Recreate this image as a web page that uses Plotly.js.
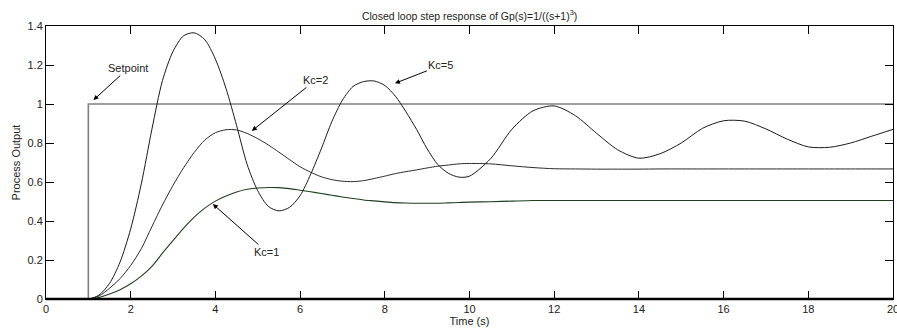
<!DOCTYPE html>
<html>
<head>
<meta charset="utf-8">
<script src="https://cdn.plot.ly/plotly-3.0.1.min.js"></script>
<style>html,body{margin:0;padding:0;background:#fff;}#chart{width:897px;height:334px;}</style>
</head>
<body>
<div id="chart"></div>
<script>
// Time samples (s)
const time = [0, 1, 1.25, 1.5, 1.75, 2, 2.25, 2.5, 2.75, 3, 3.25, 3.5, 3.75, 4, 4.25, 4.5, 4.75, 5, 5.25, 5.5, 5.75, 6, 6.25, 6.5, 6.75, 7, 7.25, 7.5, 7.75, 8, 8.25, 8.5, 8.75, 9, 9.25, 9.5, 9.75, 10, 10.5, 11, 11.5, 12, 12.5, 13, 13.5, 14, 14.5, 15, 15.5, 16, 16.5, 17, 17.5, 18, 18.5, 19, 19.5, 20];

// Process output
const kc5 = [0, 0, 0.02, 0.08, 0.19, 0.36, 0.59, 0.87, 1.12, 1.27, 1.35, 1.365, 1.33, 1.23, 1.08, 0.89, 0.69, 0.555, 0.475, 0.452, 0.47, 0.53, 0.64, 0.77, 0.91, 1.02, 1.09, 1.115, 1.118, 1.095, 1.04, 0.96, 0.87, 0.77, 0.69, 0.645, 0.625, 0.63, 0.72, 0.87, 0.965, 0.99, 0.94, 0.85, 0.765, 0.722, 0.745, 0.80, 0.875, 0.914, 0.912, 0.872, 0.82, 0.78, 0.778, 0.80, 0.835, 0.87];
const kc2 = [0, 0, 0.015, 0.055, 0.105, 0.172, 0.258, 0.371, 0.482, 0.583, 0.673, 0.752, 0.815, 0.853, 0.868, 0.867, 0.849, 0.822, 0.79, 0.753, 0.715, 0.678, 0.65, 0.627, 0.612, 0.604, 0.602, 0.607, 0.618, 0.63, 0.643, 0.653, 0.662, 0.672, 0.681, 0.687, 0.693, 0.695, 0.693, 0.683, 0.674, 0.668, 0.667, 0.666, 0.666, 0.666, 0.667, 0.667, 0.667, 0.667, 0.667, 0.667, 0.667, 0.667, 0.667, 0.667, 0.667, 0.667];
const kc1 = [0, 0, 0.008, 0.026, 0.048, 0.078, 0.117, 0.167, 0.235, 0.3, 0.364, 0.42, 0.466, 0.502, 0.528, 0.549, 0.563, 0.569, 0.572, 0.571, 0.566, 0.558, 0.55, 0.541, 0.532, 0.523, 0.515, 0.508, 0.503, 0.498, 0.494, 0.492, 0.491, 0.491, 0.491, 0.493, 0.495, 0.497, 0.499, 0.502, 0.505, 0.505, 0.505, 0.505, 0.505, 0.505, 0.505, 0.505, 0.505, 0.505, 0.505, 0.505, 0.505, 0.505, 0.505, 0.505, 0.505, 0.505];

// Setpoint step
const spTime = [0, 1, 1, 20];
const spValue = [0, 0, 1, 1];

// Annotation labels
const labels = ["Setpoint", "Kc=2", "Kc=5", "Kc=1"];
const labelX = [1.12, 4.86, 8.24, 3.94];
const labelY = [1.02, 0.862, 1.106, 0.487];

const font = "Liberation Sans, Arial, sans-serif";

const traces = [
  {x: spTime, y: spValue, mode: "lines", line: {color: "#808080", width: 1.6}, hoverinfo: "skip"},
  {x: time, y: kc1, mode: "lines", line: {color: "#1f3f1f", width: 1.1, shape: "spline", smoothing: 0.8}},
  {x: time, y: kc2, mode: "lines", line: {color: "#2a2a2a", width: 1, shape: "spline", smoothing: 0.8}},
  {x: time, y: kc5, mode: "lines", line: {color: "#1a1a1a", width: 1, shape: "spline", smoothing: 0.8}}
];

const offsets = [[35, -32], [64, -51], [46, -18], [54, 48]];
const annotations = labels.map((t, i) => ({
  x: labelX[i], y: labelY[i], xref: "x", yref: "y",
  text: t, showarrow: true, arrowhead: 2, arrowsize: 1, arrowwidth: 1, arrowcolor: "#000",
  ax: offsets[i][0], ay: offsets[i][1],
  font: {family: font, size: 11, color: "#222"}
}));

const axisCommon = {
  showgrid: false, zeroline: false, showline: true, linecolor: "#000", linewidth: 1,
  mirror: "ticks", ticks: "inside", ticklen: 8, tickwidth: 1, tickcolor: "#000",
  tickfont: {family: font, size: 11, color: "#222"}
};

const layout = {
  width: 897, height: 334,
  margin: {l: 46, r: 4, t: 26, b: 35},
  paper_bgcolor: "#fff", plot_bgcolor: "#fff",
  showlegend: false,
  title: {text: "Closed loop step response of Gp(s)=1/((s+1)<sup>3</sup>)", font: {family: font, size: 10.5, color: "#222"}, x: 0.5235, xanchor: "center", y: 0.952, yanchor: "middle"},
  xaxis: Object.assign({}, axisCommon, {range: [0, 20], dtick: 2, tick0: 0, ticklabeloverflow: "allow",
    title: {text: "Time (s)", font: {family: font, size: 11, color: "#222"}, standoff: 2}}),
  yaxis: Object.assign({}, axisCommon, {range: [0, 1.4], dtick: 0.2, tick0: 0,
    title: {text: "Process Output", font: {family: font, size: 11, color: "#222"}, standoff: 4}}),
  annotations: annotations,
  shapes: [{type: "line", xref: "paper", yref: "paper", x0: 0, x1: 1, y0: 0, y1: 0, line: {color: "#000", width: 2.5}}]
};

Plotly.newPlot("chart", traces, layout, {displayModeBar: false, staticPlot: true});
</script>
</body>
</html>
